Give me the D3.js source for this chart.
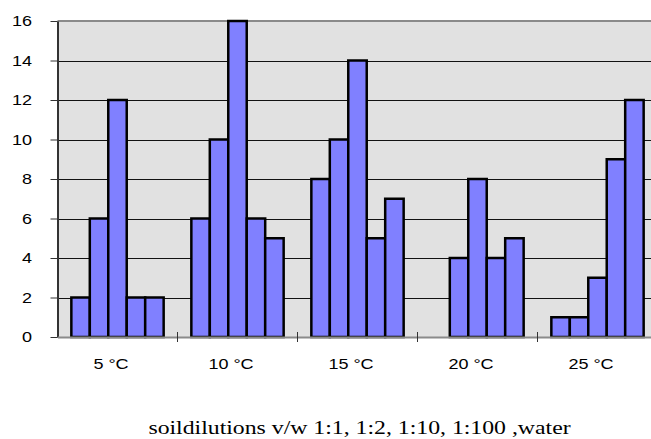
<!DOCTYPE html>
<html>
<head>
<meta charset="utf-8">
<script src="https://cdn.jsdelivr.net/npm/d3@7"></script>
<style>
  html, body { margin: 0; padding: 0; background: #fff; }
  svg { display: block; }
</style>
</head>
<body>
<svg id="chart" width="651" height="439"></svg>
<script>
// Temperatures on the category axis
const temperatures = ["5 °C", "10 °C", "15 °C", "20 °C", "25 °C"];
// Soil dilution series, in drawing order within each group
const dilutions = ["1:1", "1:2", "1:10", "1:100", "water"];
// Counts per temperature, one value per dilution
const counts = [
  [2, 6, 12, 2, 2],
  [6, 10, 16, 6, 5],
  [8, 10, 14, 5, 7],
  [0, 4, 8, 4, 5],
  [1, 1, 3, 9, 12]
];
const yTicks = [0, 2, 4, 6, 8, 10, 12, 14, 16];
const axisTitle = "soildilutions v/w 1:1, 1:2, 1:10, 1:100 ,water";

// Labels are drawn slightly widened horizontally
const stretch = 1.2;

const svg = d3.select("#chart");
const plot = { left: 57.5, right: 657.5, top: 21, bottom: 337 };

const x0 = d3.scaleBand().domain(temperatures).range([plot.left, plot.right]).padding(0);
const x1 = d3.scaleBand().domain(dilutions).range([0, x0.bandwidth()])
  .paddingInner(0).paddingOuter(0.75);
const y = d3.scaleLinear().domain([0, 16]).range([plot.bottom, plot.top]);

// Plot area background
svg.append("rect")
  .attr("x", plot.left).attr("y", plot.top)
  .attr("width", plot.right - plot.left).attr("height", plot.bottom - plot.top)
  .attr("fill", "#e1e1e1");

// Horizontal gridlines
svg.append("g").selectAll("line")
  .data(yTicks.filter(t => t > 0 && t < 16))
  .join("line")
  .attr("x1", plot.left).attr("x2", plot.right)
  .attr("y1", d => Math.round(y(d)) + 0.5).attr("y2", d => Math.round(y(d)) + 0.5)
  .attr("stroke", "#111").attr("stroke-width", 1);

// Top border of the plot area
svg.append("line")
  .attr("x1", plot.left).attr("x2", plot.right)
  .attr("y1", plot.top).attr("y2", plot.top)
  .attr("stroke", "#8a8a8a").attr("stroke-width", 2);

// Bars
const groups = svg.append("g").selectAll("g")
  .data(temperatures.map((t, i) => ({ t, values: counts[i] })))
  .join("g")
  .attr("transform", d => `translate(${x0(d.t)},0)`);

groups.selectAll("rect")
  .data(d => d.values.map((v, j) => ({ key: dilutions[j], v })).filter(e => e.v > 0))
  .join("rect")
  .attr("x", d => x1(d.key))
  .attr("y", d => y(d.v))
  .attr("width", x1.bandwidth())
  .attr("height", d => y(0) - y(d.v))
  .attr("fill", "#8080ff")
  .attr("stroke", "#000")
  .attr("stroke-width", 2.5);

// Y axis
const yAxis = svg.append("g")
  .attr("transform", `translate(${plot.left},0)`)
  .call(d3.axisLeft(y).tickValues(yTicks).tickSize(7).tickSizeOuter(0));
yAxis.select(".domain").attr("stroke", "#333").attr("stroke-width", 2);
yAxis.selectAll(".tick line").attr("stroke", "#333");
yAxis.selectAll("text")
  .attr("x", -25.5 / stretch)
  .attr("transform", `scale(${stretch},1)`)
  .attr("font-family", "Liberation Sans, Arial, sans-serif")
  .attr("font-size", 15).attr("fill", "#000");

// X axis (labels sit a little left of the band centre)
const xAxis = svg.append("g")
  .attr("transform", `translate(0,${plot.bottom})`)
  .call(d3.axisBottom(x0).tickSize(0).tickPadding(21));
xAxis.select(".domain").attr("stroke", "#8a8a8a").attr("stroke-width", 2);
xAxis.selectAll("text")
  .attr("x", -6.5 / stretch)
  .attr("transform", `scale(${stretch},1)`)
  .attr("font-family", "Liberation Sans, Arial, sans-serif")
  .attr("font-size", 15).attr("fill", "#000");

// Category boundary ticks
svg.append("g").selectAll("line")
  .data(temperatures.slice(1))
  .join("line")
  .attr("x1", d => x0(d)).attr("x2", d => x0(d))
  .attr("y1", plot.bottom - 5).attr("y2", plot.bottom + 5)
  .attr("stroke", "#333").attr("stroke-width", 1);

// Axis title
svg.append("g")
  .attr("transform", "translate(359.5,434)")
  .append("text")
  .attr("transform", `scale(${stretch},1)`)
  .attr("text-anchor", "middle")
  .attr("font-family", "Liberation Serif, Times New Roman, serif")
  .attr("font-size", 19.8)
  .attr("fill", "#000")
  .text(axisTitle);
</script>
</body>
</html>
